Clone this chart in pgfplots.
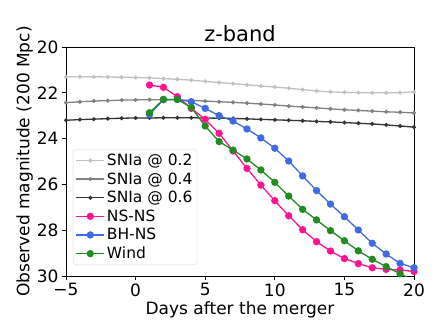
\documentclass[border=0pt]{standalone}
\usepackage{fontspec}
\setmainfont{DejaVu Sans}
\usepackage{pgfplots}
\pgfplotsset{compat=1.18}
\definecolor{sn2}{HTML}{C0C0C0}
\definecolor{sn4}{HTML}{808080}
\definecolor{sn6}{HTML}{333333}
\definecolor{nsns}{HTML}{FF1493}
\definecolor{bhns}{HTML}{4169E1}
\definecolor{wind}{HTML}{228B22}
\begin{document}
\begin{tikzpicture}[x=1pt,y=1pt]
\path[use as bounding box] (-66,-50) rectangle (370,276);
\begin{axis}[
    scale only axis, width=348pt, height=229pt,
    xmin=-5, xmax=20, ymin=20, ymax=30, y dir=reverse,
    xtick={-5,0,5,10,15,20}, ytick={20,22,24,26,28,30},
    xticklabels={\char"2212 5,0,5,10,15,20},
    tick align=outside, tick pos=left,
    major tick length=4pt,
    every tick/.style={black, line width=0.8pt},
    axis line style={line width=0.8pt},
    tick label style={font=\fontsize{17}{19}\selectfont},
    /pgf/number format/assume math mode=true,
    label style={font=\fontsize{17}{19}\selectfont},
    xlabel style={yshift=2pt},
    ylabel style={yshift=-3pt},
    xlabel={Days after the merger},
    ylabel={Observed magnitude (200 Mpc)},
    title={z-band},
    title style={font=\fontsize{21}{24}\selectfont, yshift=-4pt},
    legend style={at={(0.02,0.048)}, anchor=south west, font=\fontsize{15.5}{18}\selectfont,
        draw=gray!30, rounded corners=3pt, row sep=1.6pt, inner sep=2.5pt,
        nodes={inner sep=2pt}},
    legend cell align=left,
    legend image code/.code={
        \draw[mark repeat=2,mark phase=2] plot coordinates {(0pt,0pt)(14pt,0pt)(28pt,0pt)};},
    clip=true,
]
\addplot[sn2, line width=1.3pt, mark=*, mark size=1.3pt] coordinates {
(-5,21.30)(-4,21.30)(-3,21.30)(-2,21.31)(-1,21.32)(0,21.33)(1,21.35)(2,21.38)(3,21.41)(4,21.45)(5,21.50)(6,21.55)(7,21.60)(8,21.65)(9,21.70)(10,21.75)(11,21.80)(12,21.86)(13,21.92)(14,21.96)(15,21.98)(16,21.99)(17,22.00)(18,22.00)(19,21.99)(20,21.96)};
\addlegendentry{SNIa @ 0.2}
\addplot[sn4, line width=1.3pt, mark=*, mark size=1.3pt] coordinates {
(-5,22.43)(-4,22.39)(-3,22.36)(-2,22.34)(-1,22.32)(0,22.31)(1,22.30)(2,22.30)(3,22.31)(4,22.33)(5,22.36)(6,22.39)(7,22.42)(8,22.45)(9,22.49)(10,22.53)(11,22.58)(12,22.62)(13,22.66)(14,22.70)(15,22.74)(16,22.77)(17,22.80)(18,22.83)(19,22.85)(20,22.88)};
\addlegendentry{SNIa @ 0.4}
\addplot[sn6, line width=1.3pt, mark=*, mark size=1.3pt] coordinates {
(-5,23.20)(-4,23.17)(-3,23.15)(-2,23.13)(-1,23.11)(0,23.10)(1,23.10)(2,23.09)(3,23.09)(4,23.09)(5,23.10)(6,23.11)(7,23.12)(8,23.14)(9,23.16)(10,23.18)(11,23.20)(12,23.22)(13,23.25)(14,23.27)(15,23.30)(16,23.33)(17,23.36)(18,23.40)(19,23.45)(20,23.50)};
\addlegendentry{SNIa @ 0.6}
\addplot[nsns, line width=1.3pt, mark=*, mark size=3pt] coordinates {
(1,21.66)(2,21.76)(3,22.17)(4,22.68)(5,23.16)(6,23.77)(7,24.54)(8,25.30)(9,26.03)(10,26.71)(11,27.37)(12,27.98)(13,28.50)(14,28.91)(15,29.24)(16,29.46)(17,29.64)(18,29.71)(19,29.74)(20,29.80)};
\addlegendentry{NS-NS}
\addplot[bhns, line width=1.3pt, mark=*, mark size=3pt] coordinates {
(1,22.95)(2,22.30)(3,22.29)(4,22.39)(5,22.68)(6,23.00)(7,23.23)(8,23.58)(9,23.97)(10,24.42)(11,24.98)(12,25.63)(13,26.27)(14,26.86)(15,27.41)(16,27.99)(17,28.57)(18,29.04)(19,29.45)(20,29.64)};
\addlegendentry{BH-NS}
\addplot[wind, line width=1.3pt, mark=*, mark size=3pt] coordinates {
(1,22.87)(2,22.29)(3,22.29)(4,22.64)(5,23.45)(6,24.13)(7,24.50)(8,24.89)(9,25.37)(10,25.91)(11,26.51)(12,27.09)(13,27.55)(14,28.02)(15,28.46)(16,28.90)(17,29.27)(18,29.59)(19,29.90)(20,30.20)};
\addlegendentry{Wind}
\end{axis}
\end{tikzpicture}
\end{document}
